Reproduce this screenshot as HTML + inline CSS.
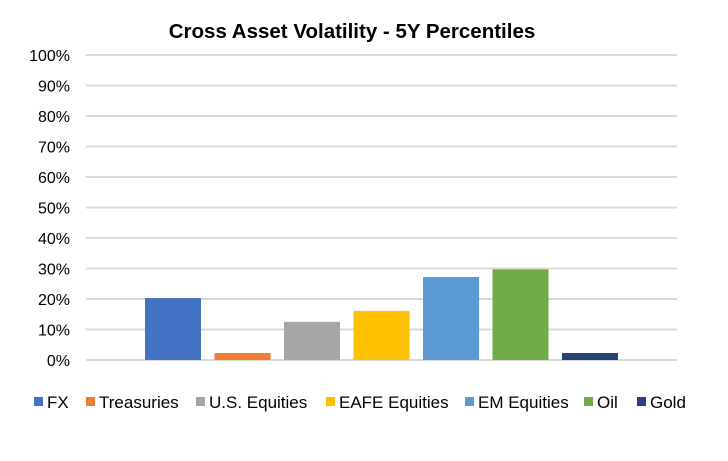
<!DOCTYPE html>
<html><head><meta charset="utf-8"><style>
html,body{margin:0;padding:0;background:#fff;}
svg{display:block;font-family:"Liberation Sans",Arial,sans-serif;}
</style></head><body>
<svg id="chart" width="728" height="461" viewBox="0 0 728 461">
<text x="352" y="38" text-anchor="middle" font-size="20.5" font-weight="bold" fill="#000">Cross Asset Volatility - 5Y Percentiles</text>
<g id="grid"></g><g id="bars"></g><g id="legend"></g>
</svg>
<script>
const categories=["FX","Treasuries","U.S. Equities","EAFE Equities","EM Equities","Oil","Gold"];
const values=[20.3,2.3,12.5,16.1,27.2,29.7,2.3];
const colors=["#4472c4","#ed7d31","#a5a5a5","#ffc000","#5b9bd5","#70ad47","#264478"];
const ticks=[0,10,20,30,40,50,60,70,80,90,100];
const ns="http://www.w3.org/2000/svg";
const plotL=86,plotR=677,y0=360,y100=55;
const y=v=>y0-(v/100)*(y0-y100);
const step=69.5,bw=56,firstX=145;
const x=i=>firstX+i*step;
function mk(t,a){const e=document.createElementNS(ns,t);for(const k in a)e.setAttribute(k,a[k]);return e;}
const g=document.getElementById('grid');
ticks.forEach(t=>{
 const l=mk('line',{x1:plotL,x2:plotR,y1:y(t),y2:y(t),stroke:'#d9d9d9','stroke-width':2});
 
 
 g.appendChild(l);
 const tx=mk('text',{x:70,y:y(t)+6,'text-anchor':'end','font-size':16,fill:'#000'});
 tx.textContent=t+'%';
 
 
 g.appendChild(tx);
});
const b=document.getElementById('bars');
values.forEach((v,i)=>{
 const r=mk('rect',{x:x(i),y:y(v),width:bw,height:y0-y(v),fill:colors[i]});
 
 
 b.appendChild(r);
});
const lg=document.getElementById('legend');
const lx=[34,86,196,326,465,584,637];
categories.forEach((c,i)=>{
 const r=mk('rect',{x:lx[i],y:397,width:9,height:9,fill:colors[i]});
 
 
 lg.appendChild(r);
 const t=mk('text',{x:lx[i]+13,y:408,'font-size':17,fill:'#000'});
 t.textContent=c;
 
 
 lg.appendChild(t);
});
</script>
</body></html>
